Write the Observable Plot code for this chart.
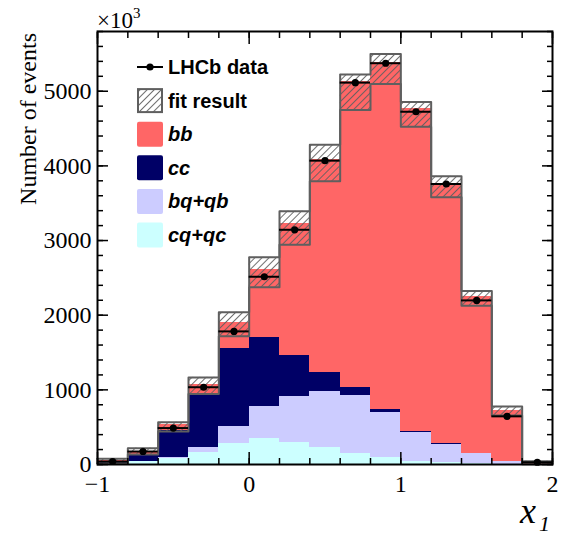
<!DOCTYPE html>
<html><head><meta charset="utf-8">
<script src="https://cdn.jsdelivr.net/npm/d3@7"></script>
<script src="https://cdn.jsdelivr.net/npm/@observablehq/plot@0.6"></script>
<style>body{margin:0;background:#fff}</style>
</head><body><div id="chart"></div>
<script>
// Bin edges of x1
const edges = [-1.0,-0.8,-0.6,-0.4,-0.2,0.0,0.2,0.4,0.6,0.8,1.0,1.2,1.4,1.6,1.8,2.0];
// Stacked components (×10^3 events per bin)
const cqqc = [10, 40, 87, 165, 285, 352, 299, 232, 154, 89, 40, 22, 10, 5, 1];
const bqqb = [5, 5, 3, 67, 224, 429, 611, 745, 776, 609, 384, 250, 133, 39, 2];
const cc   = [10, 85, 360, 714, 1040, 915, 549, 259, 96, 34, 18, 13, 5, 2, 1];
const bb   = [22, 40, 80, 129, 356, 910, 1763, 2856, 4105, 4654, 4328, 3485, 2105, 677, 8];
// LHCb data
const data = [40, 174, 488, 1035, 1783, 2515, 3144, 4070, 5115, 5375, 4725, 3757, 2198, 645, 30];
// Fit result band
const fitLo = [18, 134, 442, 946, 1718, 2374, 2945, 3793, 4750, 5096, 4525, 3579, 2128, 656, 5];
const fitHi = [76, 219, 566, 1167, 2039, 2775, 3393, 4284, 5225, 5498, 4855, 3860, 2323, 778, 45];
// Ticks
const xMajor = [-1, 0, 1, 2];
const xMinor = d3.range(-1, 2.0001, 0.2).map(v => +v.toFixed(1));
const yMajor = [0, 1000, 2000, 3000, 4000, 5000];
const yMinor = d3.range(0, 5801, 200);

const legendItems = [
  {label: "LHCb data", kind: "data"},
  {label: "fit result", kind: "fit"},
  {label: "bb", kind: "fill", color: "#ff6666", italic: true},
  {label: "cc", kind: "fill", color: "#000066", italic: true},
  {label: "bq+qb", kind: "fill", color: "#ccccff", italic: true},
  {label: "cq+qc", kind: "fill", color: "#ccffff", italic: true}
];

const n = data.length;
const bins = d3.range(n).map(i => {
  const c1 = cqqc[i], c2 = c1 + bqqb[i], c3 = c2 + cc[i], c4 = c3 + bb[i];
  return {x1: edges[i], x2: edges[i+1], xc: (edges[i]+edges[i+1])/2, c1, c2, c3, c4,
          d: data[i], lo: fitLo[i], hi: fitHi[i]};
});
const stepHi = edges.map((e, i) => ({x: e, y: fitHi[Math.min(i, n-1)]}));
const stepLo = edges.map((e, i) => ({x: e, y: fitLo[Math.min(i, n-1)]}));

const crisp = {shapeRendering: "crispEdges"};
const svg = Plot.plot({
  width: 562, height: 536,
  marginLeft: 97, marginRight: 10, marginTop: 31, marginBottom: 72,
  style: {fontFamily: "Liberation Serif", fontSize: "24px", background: "white", color: "black"},
  x: {domain: [-1, 2]},
  y: {domain: [0, 5800]},
  marks: [
    Plot.rect(bins, {x1: "x1", x2: "x2", y1: 0, y2: "c1", fill: "#ccffff", ...crisp}),
    Plot.rect(bins, {x1: "x1", x2: "x2", y1: "c1", y2: "c2", fill: "#ccccff", ...crisp}),
    Plot.rect(bins, {x1: "x1", x2: "x2", y1: "c2", y2: "c3", fill: "#000066", ...crisp}),
    Plot.rect(bins, {x1: "x1", x2: "x2", y1: "c3", y2: "c4", fill: "#ff6666", ...crisp}),
    Plot.rect(bins, {x1: "x1", x2: "x2", y1: "lo", y2: "hi", fill: "url(#hatch)"}),
    Plot.lineY(stepHi, {x: "x", y: "y", curve: "step-after", stroke: "#5f5f5f", strokeWidth: 2}),
    Plot.lineY(stepLo, {x: "x", y: "y", curve: "step-after", stroke: "#5f5f5f", strokeWidth: 2}),
    Plot.ruleY(bins, {x1: "x1", x2: "x2", y: "d", stroke: "black", strokeWidth: 2}),
    Plot.dot(bins, {x: "xc", y: "d", r: 3.6, fill: "black"}),
    Plot.frame({stroke: "black", strokeWidth: 2}),
    Plot.axisY(yMinor, {anchor: "left", tickSize: -6, strokeWidth: 1.5, fill: "none", label: null}),
    Plot.axisY(yMajor, {anchor: "left", tickSize: -11, strokeWidth: 1.5, fill: "none", label: null}),
    Plot.axisY(yMinor, {anchor: "right", tickSize: -6, strokeWidth: 1.5, fill: "none", label: null}),
    Plot.axisY(yMajor, {anchor: "right", tickSize: -11, strokeWidth: 1.5, fill: "none", label: null}),
    Plot.axisY(yMajor, {anchor: "left", tickSize: 0, tickPadding: 6, tickFormat: d => String(d), label: null}),
    Plot.axisX(xMinor, {anchor: "bottom", tickSize: -6, strokeWidth: 1.5, fill: "none", label: null}),
    Plot.axisX(xMajor, {anchor: "bottom", tickSize: -12, strokeWidth: 1.5, fill: "none", label: null}),
    Plot.axisX(xMinor, {anchor: "top", tickSize: -6, strokeWidth: 1.5, fill: "none", label: null}),
    Plot.axisX(xMajor, {anchor: "top", tickSize: -12, strokeWidth: 1.5, fill: "none", label: null}),
    Plot.axisX(xMajor, {anchor: "bottom", tickSize: 0, tickPadding: 10,
      tickFormat: d => d < 0 ? "\u2212" + Math.abs(d) : String(d), label: null})
  ]
});

const s = d3.select(svg);
const defs = s.insert("defs", ":first-child");
const pat = defs.append("pattern").attr("id", "hatch").attr("patternUnits", "userSpaceOnUse")
  .attr("width", 5).attr("height", 5).attr("patternTransform", "rotate(45)");
pat.append("line").attr("x1", 2.5).attr("y1", -1).attr("x2", 2.5).attr("y2", 6)
  .attr("stroke", "#606060").attr("stroke-width", 0.9);

// Axis titles
s.append("text").attr("transform", "translate(36,33) rotate(-90)")
  .attr("text-anchor", "end").attr("font-family", "Liberation Serif").attr("font-size", 24)
  .text("Number of events");
const exp = s.append("text").attr("x", 97).attr("y", 28).attr("text-anchor", "start")
  .attr("font-family", "Liberation Serif").attr("font-size", 23);
exp.append("tspan").text("\u00d710");
exp.append("tspan").attr("font-size", 15).attr("dy", -10).text("3");
const xt = s.append("text").attr("x", 520).attr("y", 523).attr("text-anchor", "start")
  .attr("font-family", "Liberation Serif").attr("font-style", "italic").attr("font-size", 36);
xt.append("tspan").text("x");
xt.append("tspan").attr("font-size", 22).attr("dy", 8).attr("dx", 3).text("1");

// Legend
const lg = s.append("g").attr("text-anchor", "start");
legendItems.forEach((it, i) => {
  const cy = 67 + i * 33.6;
  const g = lg.append("g");
  if (it.kind === "data") {
    g.append("line").attr("x1", 137).attr("x2", 163).attr("y1", cy).attr("y2", cy)
      .attr("stroke", "black").attr("stroke-width", 2);
    g.append("circle").attr("cx", 150).attr("cy", cy).attr("r", 3.6).attr("fill", "black");
  } else if (it.kind === "fit") {
    g.append("rect").attr("x", 138).attr("y", cy - 11.5).attr("width", 24).attr("height", 23)
      .attr("fill", "url(#hatch)").attr("stroke", "#5f5f5f").attr("stroke-width", 2);
  } else {
    g.append("rect").attr("x", 137).attr("y", cy - 12.5).attr("width", 26).attr("height", 25)
      .attr("rx", 2).attr("fill", it.color);
  }
  g.append("text").attr("x", 168).attr("y", cy + 7).attr("text-anchor", "start")
    .attr("font-family", "Liberation Sans").attr("font-weight", "bold")
    .attr("font-style", it.italic ? "italic" : "normal").attr("font-size", 20)
    .text(it.label);
});

document.getElementById("chart").appendChild(svg);
</script>
</body></html>
